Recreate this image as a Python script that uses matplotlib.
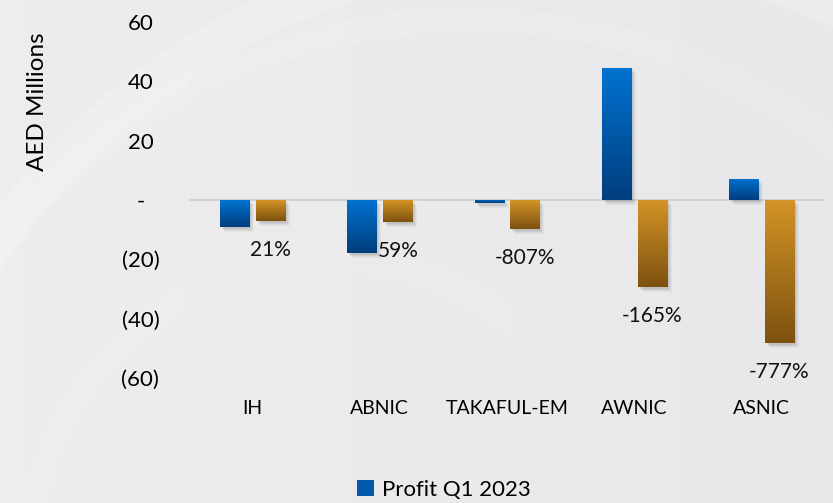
import numpy as np
import matplotlib.pyplot as plt
from matplotlib.patches import Circle, Rectangle, Patch
from matplotlib import transforms

# data
companies = ['IH', 'ABNIC', 'TAKAFUL-EM', 'AWNIC', 'ASNIC']
profit_q1_2023 = [-9.0, -18.0, -1.1, 44.5, 7.1]
profit_q1_2022 = [-7.0, -7.3, -9.7, -29.3, -48.2]
change_labels = ['21%', '59%', '-807%', '-165%', '-777%']
yticks = [60, 40, 20, 0, -20, -40, -60]
ytick_labels = ['60', '40', '20', '-', '(20)', '(40)', '(60)']

plt.rcParams['font.family'] = ['Lato', 'DejaVu Sans']

fig = plt.figure(figsize=(8.33, 5.03), dpi=100)
fig.patch.set_facecolor('#e9e9eb')

# faint decorative background rings
bg = fig.add_axes([0, 0, 1, 1], zorder=-10)
bg.set_xlim(0, 833)
bg.set_ylim(503, 0)
bg.axis('off')
grad = np.linspace(0, 1, 256).reshape(1, -1)
bg.imshow(np.dstack([0.93 - 0.02 * grad, 0.93 - 0.02 * grad, 0.935 - 0.015 * grad]),
          extent=[0, 833, 503, 0], aspect='auto')
for (cx, cy, r, lw, a) in [(560, 640, 690, 28, 0.18), (470, 620, 600, 18, 0.12),
                           (330, 560, 300, 22, 0.08)]:
    bg.add_patch(Circle((cx, cy), r, fill=False, ec='white', lw=lw, alpha=a))

ax = fig.add_axes([189 / 833, 1 - 378 / 503, 636 / 833, 356 / 503])
ax.patch.set_alpha(0)
for s in ax.spines.values():
    s.set_visible(False)

x = np.arange(len(companies))
w = 0.228
off = 0.1415

blue_bars = ax.bar(x - off, profit_q1_2023, w, color='none', zorder=3)
gold_bars = ax.bar(x + off, profit_q1_2022, w, color='none', zorder=3)

blue_grad = np.array([[0.0, 0.45, 0.82], [0.0, 0.24, 0.49]])
gold_grad = np.array([[0.83, 0.58, 0.15], [0.49, 0.32, 0.06]])


def paint(bars, cols):
    t = np.linspace(0, 1, 64)[:, None]
    img = cols[0] * (1 - t) + cols[1] * t
    img = img.reshape(64, 1, 3)
    for b in bars:
        x0, y0 = b.get_x(), b.get_y()
        bw, bh = b.get_width(), b.get_height()
        lo, hi = min(y0, y0 + bh), max(y0, y0 + bh)
        # soft drop shadow
        for k, al in [(5, 0.05), (4, 0.06), (3, 0.08), (2, 0.1)]:
            tr = transforms.offset_copy(ax.transData, fig=fig, x=k, y=-k, units='dots')
            ax.add_patch(Rectangle((x0, lo), bw, hi - lo, fc='#505050', ec='none',
                                   alpha=al, transform=tr, zorder=2))
        im = ax.imshow(img, extent=[x0, x0 + bw, lo, hi], aspect='auto', zorder=3,
                       interpolation='bilinear')
        im.set_clip_path(b)


paint(blue_bars, blue_grad)
paint(gold_bars, gold_grad)

ax.axhline(0, color='#d2d2d4', lw=1.5, zorder=1)

for i, lab in enumerate(change_labels):
    ax.annotate(lab, (x[i] + off, profit_q1_2022[i]), xytext=(0, -21),
                textcoords='offset points', ha='center', va='center', fontsize=15, color='#111111')

ax.set_xlim(-0.5, 4.5)
ax.set_ylim(-60, 60)
ax.set_yticks(yticks)
ax.set_yticklabels(ytick_labels, fontsize=16)
for t in ax.get_yticklabels():
    t.set_ha('center')
ax.tick_params(axis='y', length=0, pad=35)
ax.set_xticks(x)
ax.set_xticklabels(companies, fontsize=14)
ax.tick_params(axis='x', length=0, pad=16)
ax.set_ylabel('AED Millions', fontsize=17.5)
ax.yaxis.set_label_coords(-0.221, 0.775)

fig.legend(handles=[Patch(facecolor='#0058a8', edgecolor='none')], labels=['Profit Q1 2023'],
           loc='center', bbox_to_anchor=(0.533, 0.026), frameon=False, fontsize=16,
           handlelength=0.75, handleheight=0.75, handletextpad=0.4)

fig.savefig('out.png', dpi=100, facecolor=fig.get_facecolor())
